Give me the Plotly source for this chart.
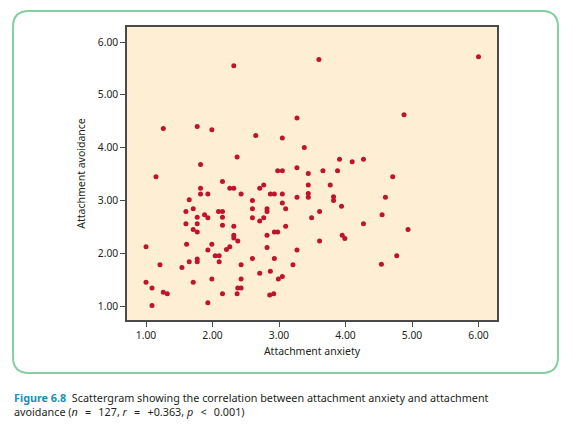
import plotly.graph_objects as go

# Data
anxiety = [2.32, 1.26, 1.77, 1.99, 2.65, 3.05, 3.27, 3.38, 2.37, 1.82, 3.27, 3.60, 6.00, 4.88,
           3.91, 4.10, 4.27, 3.44, 3.66, 3.88, 4.71, 3.44, 3.77, 3.44, 3.44, 3.82, 3.82, 4.60,
           3.94, 3.61, 3.49, 4.55, 4.27, 4.94, 3.95, 3.99, 3.61, 4.77, 4.54, 1.15, 1.82, 1.82,
           1.93, 1.65, 1.71, 1.60, 2.09, 1.88, 1.77, 1.93, 1.60, 1.77, 1.71, 1.77, 2.98, 3.05,
           2.15, 2.26, 2.32, 2.71, 2.77, 2.43, 2.87, 2.93, 3.05, 3.27, 2.60, 3.05, 2.15, 2.60,
           2.82, 2.82, 3.10, 2.15, 2.60, 2.77, 2.71, 2.15, 2.32, 3.10, 2.93, 2.98, 2.32, 2.82,
           2.32, 2.38, 2.26, 2.21, 2.04, 2.10, 2.10, 2.82, 3.27, 2.60, 2.93, 2.43, 3.21, 2.71,
           2.87, 3.05, 2.99, 2.43, 2.38, 2.43, 2.15, 2.37, 2.86, 2.92, 1.00, 1.61, 1.99, 1.93,
           1.21, 1.65, 1.54, 1.77, 1.77, 1.00, 1.09, 1.32, 1.71, 1.99, 1.09, 1.26, 1.93]
avoidance = [5.55, 4.36, 4.40, 4.34, 4.23, 4.18, 4.56, 4.00, 3.82, 3.68, 3.62, 5.67, 5.72, 4.62,
             3.78, 3.73, 3.78, 3.51, 3.56, 3.56, 3.45, 3.29, 3.29, 3.13, 3.06, 3.07, 3.00, 3.06,
             2.89, 2.79, 2.67, 2.73, 2.56, 2.45, 2.34, 2.28, 2.23, 1.95, 1.79, 3.45, 3.23, 3.12,
             3.12, 3.01, 2.84, 2.79, 2.79, 2.73, 2.68, 2.67, 2.56, 2.56, 2.45, 2.40, 3.56, 3.56,
             3.36, 3.23, 3.23, 3.23, 3.29, 3.12, 3.12, 3.12, 3.12, 3.06, 3.00, 2.95, 2.79, 2.84,
             2.84, 2.79, 2.84, 2.68, 2.67, 2.67, 2.61, 2.53, 2.51, 2.51, 2.40, 2.40, 2.34, 2.34,
             2.29, 2.23, 2.12, 2.07, 1.95, 1.95, 1.84, 2.11, 2.06, 1.90, 1.90, 1.78, 1.78, 1.62,
             1.66, 1.56, 1.51, 1.51, 1.34, 1.34, 1.23, 1.23, 1.21, 1.23, 2.12, 2.17, 2.17, 2.06,
             1.78, 1.84, 1.73, 1.89, 1.84, 1.45, 1.34, 1.23, 1.45, 1.51, 1.01, 1.26, 1.06]

tick_vals = [1, 2, 3, 4, 5, 6]
tick_text = ["1.00", "2.00", "3.00", "4.00", "5.00", "6.00"]

x_title = "Attachment anxiety"
y_title = "Attachment avoidance"
SP = "&#8194;&#8201;"  # wide math-style spacing around operators
caption_1 = ("<b><span style='color:#1b8fb3'>Figure 6.8</span></b>  Scattergram showing the "
             "correlation between attachment anxiety and attachment")
caption_2 = ("avoidance (<i>n</i>" + SP + "=" + SP + "127, <i>r</i>" + SP + "=" + SP +
             "+0.363, <i>p</i>" + SP + "&lt;" + SP + "0.001)")

# The page body adds an 8px margin; size and place the figure to compensate.
OFF = 8
W, H = 572 - OFF, 426 - OFF
L, R, T, B = 127 - OFF, 497 - OFF, 27 - OFF, 320 - OFF  # plot area in figure pixels


def px2paper(px, py):
    """Reference-screen pixel -> paper coordinates."""
    px, py = px - OFF, py - OFF
    return (px - L) / (R - L), (B - py) / (B - T)


def rounded_rect(x0, y0, x1, y1, r):
    segs = [
        ("M", [(x0 + r, y0)]),
        ("L", [(x1 - r, y0)]),
        ("Q", [(x1, y0), (x1, y0 + r)]),
        ("L", [(x1, y1 - r)]),
        ("Q", [(x1, y1), (x1 - r, y1)]),
        ("L", [(x0 + r, y1)]),
        ("Q", [(x0, y1), (x0, y1 - r)]),
        ("L", [(x0, y0 + r)]),
        ("Q", [(x0, y0), (x0 + r, y0)]),
    ]
    out = []
    for cmd, ps in segs:
        coords = " ".join("%.5f,%.5f" % px2paper(a, b) for a, b in ps)
        out.append(cmd + " " + coords)
    return " ".join(out) + " Z"


fig = go.Figure()
fig.add_trace(go.Scatter(
    x=anxiety, y=avoidance, mode="markers",
    marker=dict(color="#c0132d", size=5, line=dict(width=0)),
    hoverinfo="x+y", showlegend=False,
))

axis_common = dict(
    showgrid=False, zeroline=False, showline=True, mirror=True,
    linecolor="#4a4a4a", linewidth=1.5, ticks="outside", ticklen=5,
    tickwidth=1.3, tickcolor="#4a4a4a", tickvals=tick_vals, ticktext=tick_text,
    tickfont=dict(family="Noto Sans", size=10.3, color="#231f20"),
)

fig.update_layout(
    width=W, height=H,
    margin=dict(l=L, r=W - R, t=T, b=H - B),
    paper_bgcolor="white", plot_bgcolor="#feeed4",
    xaxis=dict(range=[0.714, 6.278],
               title=dict(text=x_title, standoff=7,
                          font=dict(family="Noto Sans", size=10.5, color="#231f20")),
               **axis_common),
    yaxis=dict(range=[0.735, 6.284],
               title=dict(text=y_title, standoff=10,
                          font=dict(family="Noto Sans", size=10.5, color="#231f20")),
               **axis_common),
    font=dict(family="Noto Sans", color="#231f20"),
    shapes=[dict(type="path", xref="paper", yref="paper",
                 path=rounded_rect(13, 11, 558, 373, 16),
                 line=dict(color="#86cf9f", width=2), layer="below")],
    annotations=[
        dict(text=caption_1, xref="paper", yref="paper",
             x=px2paper(12, 0)[0], y=px2paper(0, 397)[1], xanchor="left", yanchor="middle",
             showarrow=False, font=dict(family="Noto Sans", size=10.8, color="#231f20")),
        dict(text=caption_2, xref="paper", yref="paper",
             x=px2paper(12, 0)[0], y=px2paper(0, 411)[1], xanchor="left", yanchor="middle",
             showarrow=False, font=dict(family="Noto Sans", size=10.8, color="#231f20")),
    ],
)

fig.write_html("out.html")
